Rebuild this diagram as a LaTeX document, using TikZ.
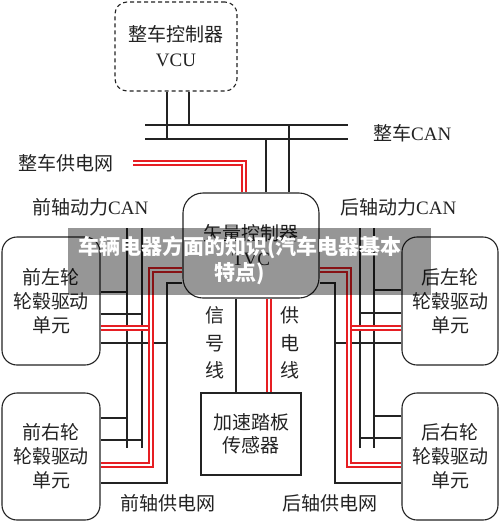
\documentclass[tikz,border=0pt]{standalone}
\usepackage{fontspec}
\setmainfont{Liberation Serif}
\newfontfamily\cjk{Noto Sans CJK SC}
\definecolor{pr}{RGB}{230,30,35}
\definecolor{ink}{RGB}{35,35,35}
\tikzset{
  wire/.style={draw=ink, line width=1.1pt},
  pwr/.style={draw=pr, double=white, double distance=1.8pt, line width=1.8pt},
  unitbox/.style={draw=ink, line width=1.1pt, rounded corners=15pt, inner sep=0pt, align=center},
  lbl/.style={inner sep=0pt, text=ink, font=\cjk\fontsize{19}{24}\selectfont, align=center},
}
\begin{document}
\begin{tikzpicture}[x=1pt,y=-1pt]
\useasboundingbox (0,0) rectangle (500,523);
\fill[white] (0,0) rectangle (500,523);

% boxes
\node[unitbox, dashed, dash pattern=on 4pt off 3pt, rounded corners=12pt, minimum width=122pt, minimum height=89pt, lbl] (vcu) at (176,46.5) {整车控制器\\[1pt]{\rmfamily VCU}};
\node[unitbox, rounded corners=20pt, minimum width=136pt, minimum height=105pt, lbl] (ctl) at (251,245.5) {矢量控制器\\[1pt]{\rmfamily TVC}};
\node[unitbox, minimum width=98pt, minimum height=128pt, lbl] (fl) at (51,301) {前左轮\\轮毂驱动\\单元};
\node[unitbox, minimum width=98pt, minimum height=127pt, lbl] (fr) at (51,456.5) {前右轮\\轮毂驱动\\单元};
\node[unitbox, minimum width=96pt, minimum height=128pt, lbl] (rl) at (450,301) {后左轮\\轮毂驱动\\单元};
\node[unitbox, minimum width=96pt, minimum height=127pt, lbl] (rr) at (450,456.5) {后右轮\\轮毂驱动\\单元};
\node[draw=ink, line width=1.1pt, minimum width=100pt, minimum height=82pt, inner sep=0pt, lbl, font=\cjk\fontsize{19}{23}\selectfont] (acc) at (251,434) {加速踏板\\传感器};

% vehicle CAN bus
\coordinate (canAl) at (145,125); \coordinate (canAr) at (348,125);
\coordinate (canBl) at (145,139); \coordinate (canBr) at (348,139);
\draw[wire] (canAl) -- (canAr);
\draw[wire] (canBl) -- (canBr);
\draw[wire] (vcu.south -| 167,0) -- (167,139);
\draw[wire] (vcu.south -| 189,0) -- (189,125);
\draw[wire] (266,139) -- (ctl.north -| 266,0);
\draw[wire] (289,125) -- (ctl.north -| 289,0);
\node[lbl, anchor=west] (canlbl) at (373,133) {整车{\rmfamily CAN}};

% vehicle power
\draw[pwr] (133,163) -- (244,163) -- (ctl.north -| 244,0);
\node[lbl, anchor=west] (pwlbl) at (18,163) {整车供电网};

\node[lbl, anchor=west] (fcan) at (32,207) {前轴动力{\rmfamily CAN}};
\node[lbl, anchor=west] (rcan) at (340,207) {后轴动力{\rmfamily CAN}};

% ---- left side wiring
\draw[wire] (127,228) -- (127,448);
\draw[wire] (142,228) -- (142,448);
\draw[wire] (fl.east |- 0,292) -- (127,292);
\draw[wire] (fl.east |- 0,314) -- (142,314);
\draw[wire] (fr.east |- 0,418) -- (127,418);
\draw[wire] (fr.east |- 0,440) -- (142,440);
\draw[wire] (fl.east |- 0,343) -- (167,343);
\draw[wire] (ctl.west |- 0,283) -- (167,283) -- (167,483) -- (fr.east |- 0,483);
\draw[pwr] (fl.east |- 0,328) -- (151,328);
\draw[pwr] (ctl.west |- 0,270) -- (151,270) -- (151,465) -- (fr.east |- 0,465);

% ---- right side wiring
\draw[wire] (360,228) -- (360,448);
\draw[wire] (374,228) -- (374,448);
\draw[wire] (rl.west |- 0,290) -- (374,290);
\draw[wire] (rl.west |- 0,313) -- (360,313);
\draw[wire] (rr.west |- 0,416) -- (374,416);
\draw[wire] (rr.west |- 0,438) -- (360,438);
\draw[wire] (rl.west |- 0,343) -- (335,343);
\draw[wire] (ctl.east |- 0,283) -- (335,283) -- (335,483) -- (rr.west |- 0,483);
\draw[pwr] (rl.west |- 0,328) -- (349,328);
\draw[pwr] (ctl.east |- 0,270) -- (349,270) -- (349,465) -- (rr.west |- 0,465);

% ---- accelerator pedal
\draw[wire] (ctl.south -| 236,0) -- (acc.north -| 236,0);
\draw[pwr] (ctl.south -| 269,0) -- (acc.north -| 269,0);
\node[lbl, font=\cjk\fontsize{19}{27.5}\selectfont] (sig) at (215,343) {信\\号\\线};
\node[lbl, font=\cjk\fontsize{19}{27.5}\selectfont] (sup) at (290,343) {供\\电\\线};

\node[lbl] (fpw) at (168,503) {前轴供电网};
\node[lbl] (rpw) at (330,503) {后轴供电网};

% ---- watermark overlay
\fill[black, opacity=0.41] (68,228) rectangle (431,295);
\node[inner sep=0pt, text=white, align=center, font=\cjk\bfseries\fontsize{21}{26}\selectfont] (wm) at (240,260) {车辆电器方面的知识(汽车电器基本\\特点)};
\end{tikzpicture}
\end{document}
